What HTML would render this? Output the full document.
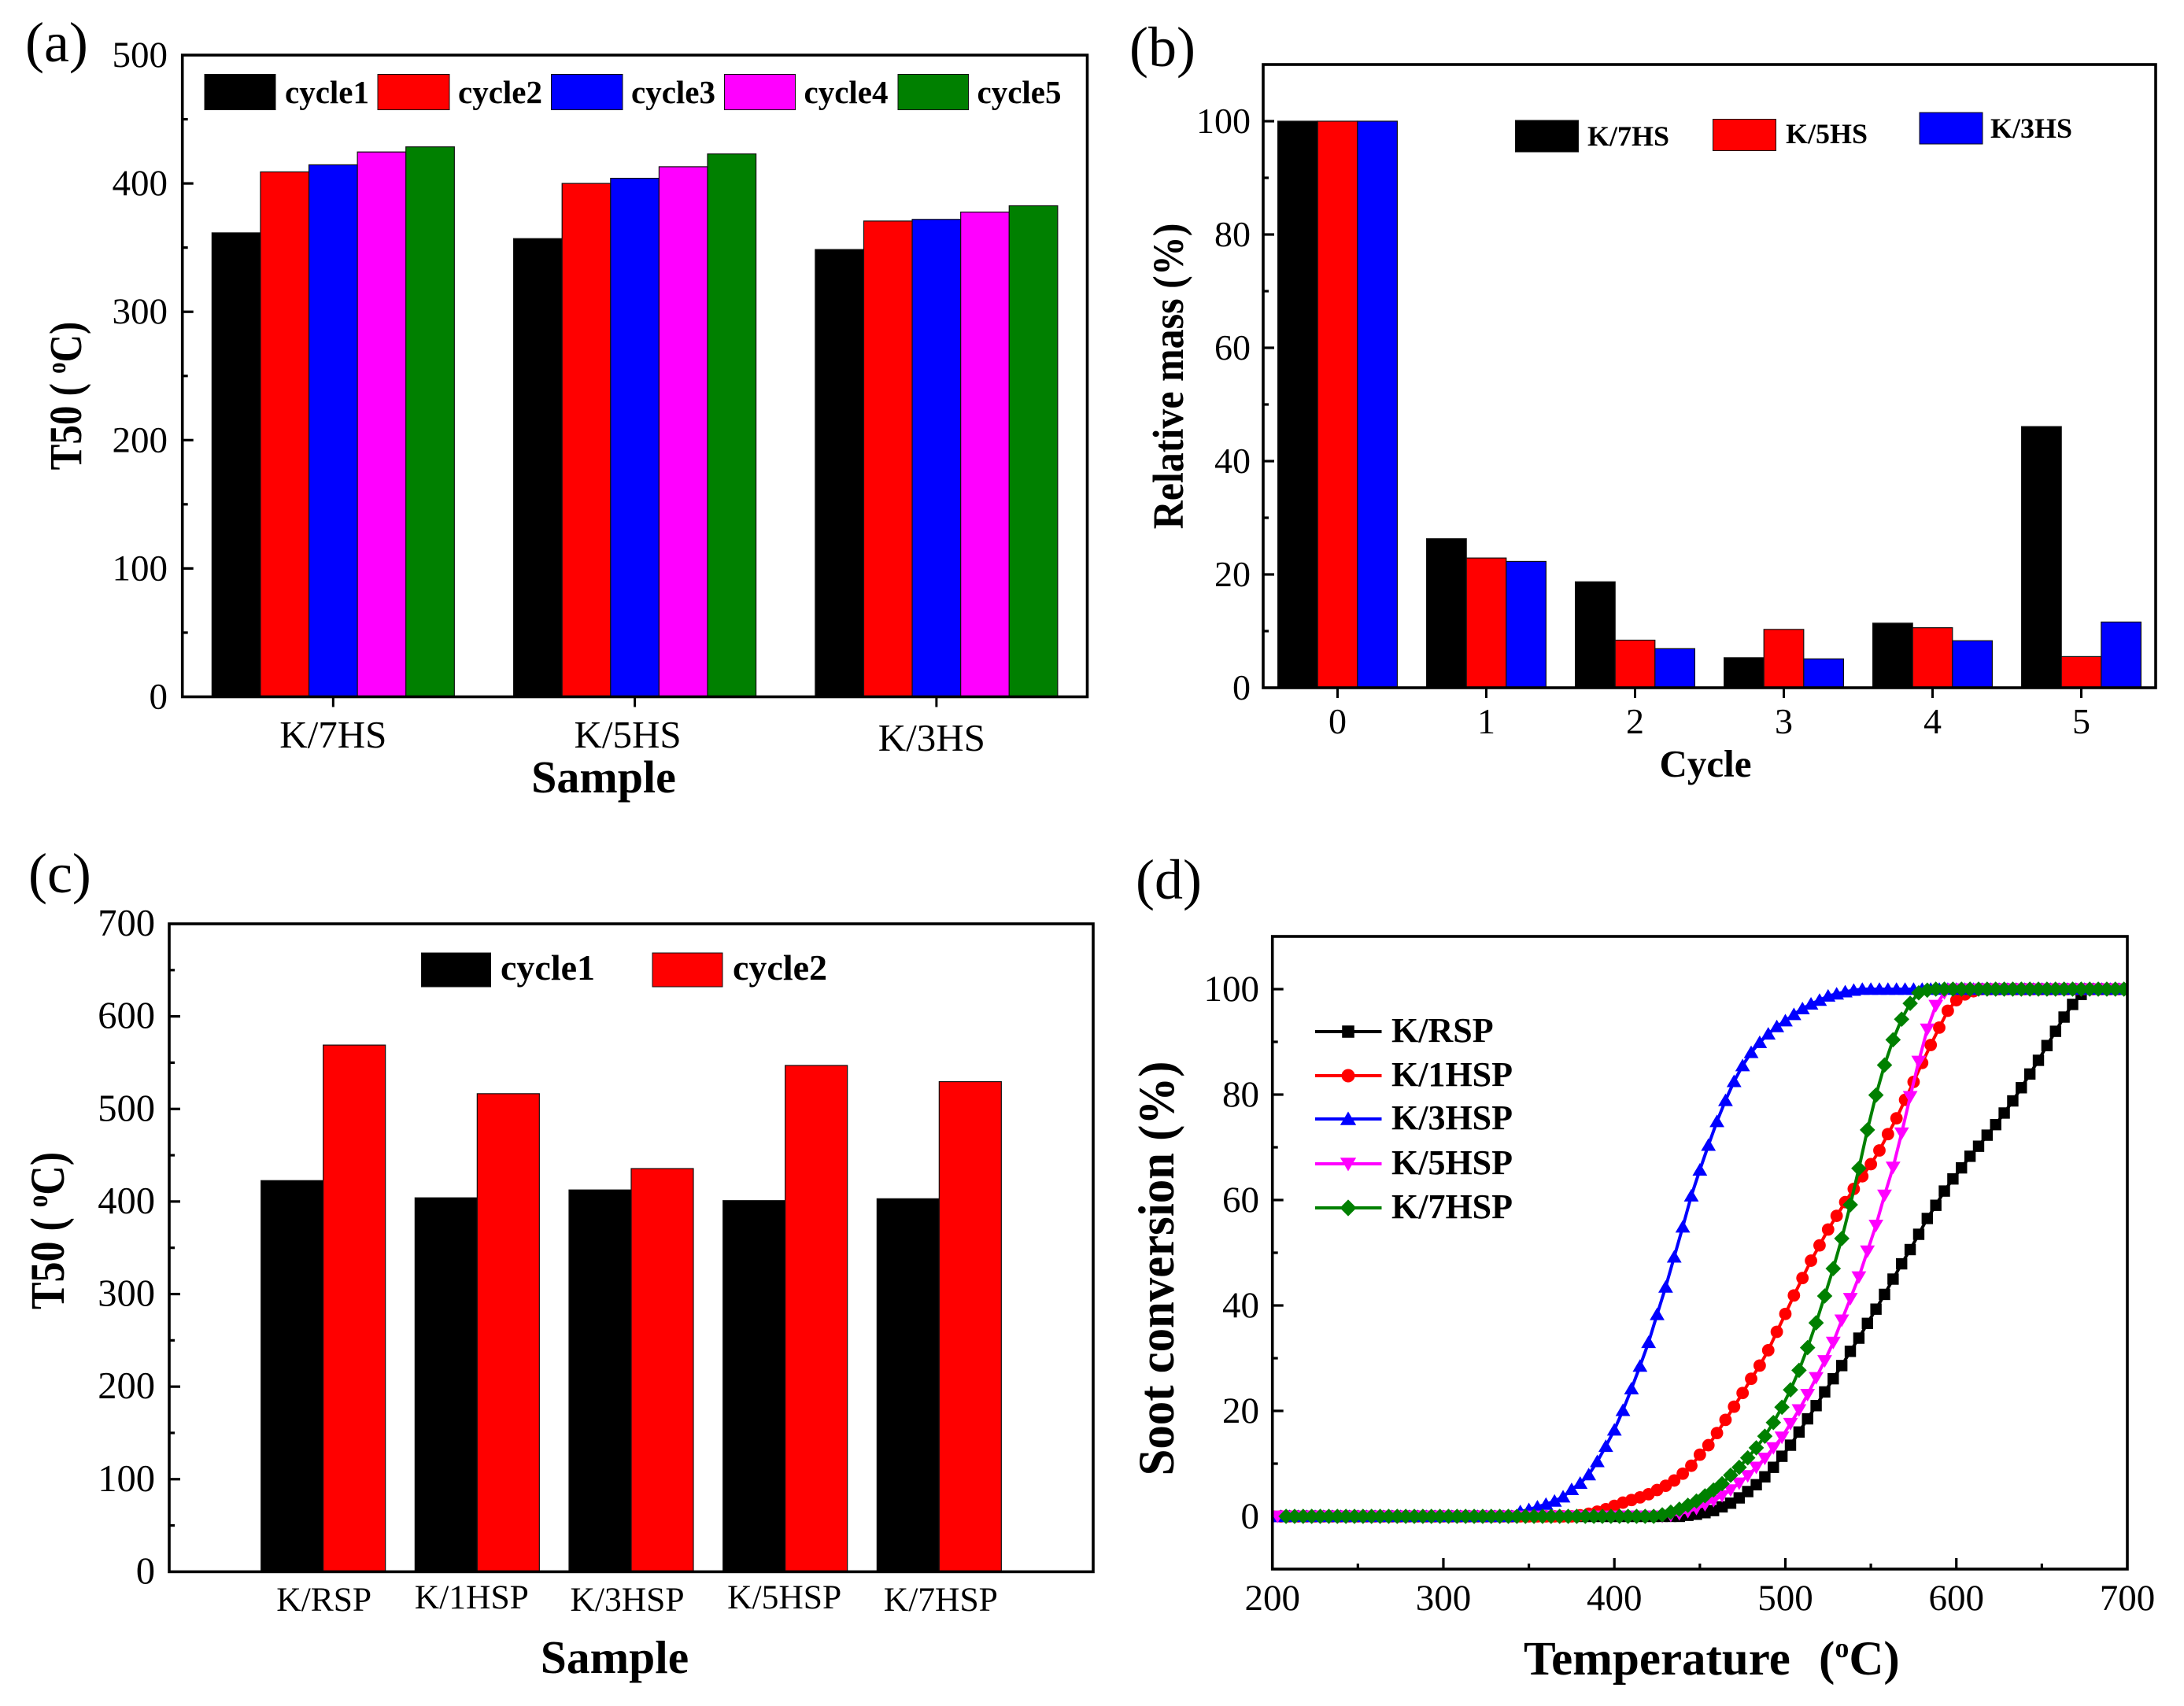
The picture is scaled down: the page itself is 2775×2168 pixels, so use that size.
<!DOCTYPE html>
<html lang="en">
<head>
<meta charset="utf-8">
<title>T50 and soot conversion figure</title>
<style>
html,body{margin:0;padding:0;background:#fff;}
svg{display:block;}
text{font-family:"Liberation Serif","Times New Roman",serif;fill:#000;}
.b{font-weight:bold;}
</style>
</head>
<body>
<svg id="figure" xmlns="http://www.w3.org/2000/svg" width="2775" height="2168" viewBox="0 0 2775 2168">
<defs><clipPath id="plotClipD"><rect x="1616.7" y="1190" width="1086.3" height="804"/></clipPath></defs>
<rect width="2775" height="2168" fill="#fff"/>

<g id="panelA"></g>
<g id="panelB"></g>
<g id="panelC"></g>
<g id="panelD"></g>

<!-- panel letters -->
<text x="32" y="78" font-size="72">(a)</text>
<text x="1435" y="84" font-size="72">(b)</text>
<text x="36" y="1134" font-size="72">(c)</text>
<text x="1443" y="1142" font-size="72">(d)</text>

<!-- panel a titles and legend -->
<text class="b" x="767" y="1007" font-size="58" text-anchor="middle">Sample</text>
<text class="b" transform="translate(103 503) rotate(-90) scale(1 1.18)" font-size="49" text-anchor="middle">T50 ( <tspan font-size="29" dy="-17">o</tspan><tspan dy="17">C)</tspan></text>
<g>
  <rect x="260" y="94.5" width="90" height="45" fill="#000" stroke="#111" stroke-width="1"/>
  <text class="b" x="362" y="131" font-size="41">cycle1</text>
  <rect x="480" y="94.5" width="91" height="45" fill="#f00" stroke="#111" stroke-width="1"/>
  <text class="b" x="582" y="131" font-size="41">cycle2</text>
  <rect x="700.5" y="94.5" width="90.5" height="45" fill="#00f" stroke="#111" stroke-width="1"/>
  <text class="b" x="802" y="131" font-size="41">cycle3</text>
  <rect x="920.5" y="94.5" width="90" height="45" fill="#f0f" stroke="#111" stroke-width="1"/>
  <text class="b" x="1021.5" y="131" font-size="41">cycle4</text>
  <rect x="1141" y="94.5" width="89.5" height="45" fill="#008000" stroke="#111" stroke-width="1"/>
  <text class="b" x="1241.5" y="131" font-size="41">cycle5</text>
</g>

<!-- panel b titles and legend -->
<text class="b" x="2167" y="987" font-size="49" text-anchor="middle">Cycle</text>
<text class="b" transform="translate(1503 478) rotate(-90) scale(1 1.1)" font-size="50" text-anchor="middle">Relative mass (%)</text>
<g>
  <rect x="1925.5" y="153" width="80" height="40" fill="#000" stroke="#111" stroke-width="1"/>
  <text class="b" x="2017" y="185" font-size="36">K/7HS</text>
  <rect x="2176.5" y="151.5" width="80" height="40" fill="#f00" stroke="#111" stroke-width="1"/>
  <text class="b" x="2269" y="182" font-size="36">K/5HS</text>
  <rect x="2439" y="143" width="80" height="40" fill="#00f" stroke="#111" stroke-width="1"/>
  <text class="b" x="2529" y="175" font-size="36">K/3HS</text>
</g>

<!-- panel c titles and legend -->
<text class="b" x="781" y="2126" font-size="59.5" text-anchor="middle">Sample</text>
<text class="b" transform="translate(81 1564) rotate(-90) scale(1 1.18)" font-size="52" text-anchor="middle">T50 ( <tspan font-size="31" dy="-18">o</tspan><tspan dy="18">C)</tspan></text>
<g>
  <rect x="535.5" y="1211" width="88" height="43" fill="#000" stroke="#111" stroke-width="1"/>
  <text class="b" x="636" y="1245" font-size="46">cycle1</text>
  <rect x="829" y="1211" width="89" height="43" fill="#f00" stroke="#111" stroke-width="1"/>
  <text class="b" x="931" y="1245" font-size="46">cycle2</text>
</g>

<!-- panel d titles -->
<text class="b" y="2128" font-size="61"><tspan x="1936">Temperature</tspan><tspan x="2311">(</tspan><tspan font-size="36" dy="-22">o</tspan><tspan dy="22">C)</tspan></text>
<text class="b" transform="translate(1491 1612) rotate(-90) scale(1 1.06)" font-size="60.8" text-anchor="middle">Soot conversion (%)</text>

<script>
// ---------- panel a data ----------
const aCategories = ["K/7HS", "K/5HS", "K/3HS"];
const aCycle1 = [361.5, 357, 348.5];
const aCycle2 = [409, 400, 370.7];
const aCycle3 = [414.5, 404, 372];
const aCycle4 = [424.5, 413, 377.7];
const aCycle5 = [428.5, 423, 382.6];
const aYTicks = [0, 100, 200, 300, 400, 500];

// ---------- panel b data ----------
const bCategories = ["0", "1", "2", "3", "4", "5"];
const bK7HS = [100, 26.3, 18.7, 5.3, 11.4, 46.1];
const bK5HS = [100, 22.9, 8.4, 10.3, 10.6, 5.5];
const bK3HS = [100, 22.3, 6.9, 5.1, 8.3, 11.6];
const bYTicks = [0, 20, 40, 60, 80, 100];

// ---------- panel c data ----------
const cCategories = ["K/RSP", "K/1HSP", "K/3HSP", "K/5HSP", "K/7HSP"];
const cCycle1 = [422.6, 404, 412.5, 401, 403];
const cCycle2 = [569, 516.5, 435.6, 547, 529.5];
const cYTicks = [0, 100, 200, 300, 400, 500, 600, 700];

// ---------- panel d data ----------
const dXTicks = [200, 300, 400, 500, 600, 700];
const dYTicks = [0, 20, 40, 60, 80, 100];
const dLegendNames = ["K/RSP", "K/1HSP", "K/3HSP", "K/5HSP", "K/7HSP"];
// sampling temperature of each reading (first value of each series)
const dStartRSP = 203;
const dStart1HSP = 200;
const dStart3HSP = 200;
const dStart5HSP = 203;
const dStart7HSP = 208;
const dStepC = 5;
const dRSP = [0,0,0,0,0,0,0,0,0,0,0,0,0,0,0,0,0,0,0,0,0,0,0,0,0,0,0,0,0,0,0,0,0,0,0,0,0,0,0,0,0,0,0,0,0,0,0,0,
  .2,.4,.7,1.1,1.8,2.5,3.5,4.7,6,7.5,9.3,11.4,13.5,16,18.5,21,23.6,26.1,28.6,31.3,33.8,36.6,39.3,42.1,45,47.9,50.6,53.5,56.5,59,61.7,64,66.1,68.3,70.2,72.3,74.3,76.5,78.8,81.3,83.9,86.5,89.3,92,94.7,97.1,99,
  100,100,100,100,100];
const d1HSP = [0,0,0,0,0,0,0,0,0,0,0,0,0,0,0,0,0,0,0,0,0,0,0,0,0,0,0,0,0,0,0,0,0,0,0,0,
  .2,.5,.9,1.35,2,2.6,3.1,3.6,4.2,5,5.8,6.8,8.1,9.6,11.7,13.5,15.8,18.3,20.8,23.4,26.1,28.6,31.5,35,38.4,41.9,45.2,48.5,51.4,54.4,57,59.6,62.1,64.5,66.8,69.4,72.5,75.5,79,82.4,86,89.4,92.7,95.9,97.9,99,99.6,
  100,100,100,100,100,100,100,100,100,100,100,100,100,100,100,100,100,100];
const d3HSP = [0,0,0,0,0,0,0,0,0,0,0,0,0,0,0,0,0,0,0,0,0,0,0,0,0,0,0,0,0,
  .9,1.3,1.8,2.3,2.9,3.7,5.1,6.3,7.9,10.4,13.3,16.4,20.1,24.2,28.5,33,38.3,43.5,49.2,54.9,60.8,65.7,70.4,74.9,78.9,82.5,85.5,88,89.9,91.5,92.9,94,95.2,96.3,97.2,97.9,98.7,99.1,99.5,99.8,
  100,100,100,100,100,100,100,100,100,100,100,100,100,100,100,100,100,100,100,100,100,100,100,100,100,100,100,100,100,100,100,100];
const d5HSP = [0,0,0,0,0,0,0,0,0,0,0,0,0,0,0,0,0,0,0,0,0,0,0,0,0,0,0,0,0,0,0,0,0,0,0,0,0,0,0,0,0,0,0,0,0,0,
  .2,.5,.9,1.5,2.2,3,3.9,5,6.3,7.7,9.3,11,13,15,17.6,20.2,23.1,26.3,29.5,33,37.2,41.3,45.4,50.3,55.2,60.9,66.2,72.7,79.6,86.3,92.4,96.9,99.3,
  100,100,100,100,100,100,100,100,100,100,100,100,100,100,100,100,100,100,100,100,100];
const d7HSP = [0,0,0,0,0,0,0,0,0,0,0,0,0,0,0,0,0,0,0,0,0,0,0,0,0,0,0,0,0,0,0,0,0,0,0,0,0,0,0,0,0,0,0,0,
  .3,.8,1.35,2.1,2.9,3.9,5,6.2,7.8,9.3,11.1,13,15.2,17.8,20.7,24,27.7,32,36.7,41.8,47,52.7,59.1,66,73.3,79.9,85.6,90.4,94.3,97.3,99.3,99.8,
  100,100,100,100,100,100,100,100,100,100,100,100,100,100,100,100,100,100,100,100,100,100,100];

// ---------- helpers ----------
const NS = "http://www.w3.org/2000/svg";
function mk(parent, tag, attrs, txt) {
  const e = document.createElementNS(NS, tag);
  for (const k in attrs) e.setAttribute(k, attrs[k]);
  if (txt !== undefined) e.textContent = txt;
  parent.appendChild(e);
  return e;
}
function frame(parent, L, T, R, B) {
  const e = mk(parent, "rect", {x: L, y: T, width: R - L, height: B - T, fill: "none", stroke: "#000", "stroke-width": 3.6});
  
  
}
function yAxis(parent, L, yFn, ticks, minorStep, maxV, minV, size, labelRight) {
  for (let v = minV; v <= maxV + 1e-6; v += minorStep) {
    const isMajor = ticks.indexOf(v) >= 0;
    if (v === minV || v === maxV) continue;
    const t = mk(parent, "line", {x1: L, x2: L + (isMajor ? 14 : 7), y1: yFn(v), y2: yFn(v), stroke: "#000", "stroke-width": 3.2});
    
    
  }
  ticks.forEach(function (v) {
    const t = mk(parent, "text", {x: labelRight, y: yFn(v) + 15, "font-size": size, "text-anchor": "end"}, String(v));
    
    
  });
}
function xTick(parent, x, B) {
  const t = mk(parent, "line", {x1: x, x2: x, y1: B, y2: B + 13, stroke: "#000", "stroke-width": 3});
  
  
}
function catLabel(parent, txt, x, y, size) {
  const t = mk(parent, "text", {x: x, y: y, "font-size": size, "text-anchor": "middle"}, txt);
  
  
}
function bar(parent, x, w, yTop, yBase, color) {
  const r = mk(parent, "rect", {x: x, y: yTop, width: w, height: yBase - yTop, fill: color, stroke: "#111", "stroke-width": 1.2});
  
  
}

// ---------- panel a ----------
(function () {
  const g = document.getElementById("panelA");
  const L = 231.7, R = 1381.5, T = 70, B = 885.5;
  const y = function (v) { return B - v * (B - T) / 500; };
  const x = function (i) { return L + (i + 0.5) * (R - L) / 3; };
  const series = [aCycle1, aCycle2, aCycle3, aCycle4, aCycle5];
  const colors = ["#000", "#f00", "#00f", "#f0f", "#008000"];
  const w = 61.6;
  series.forEach(function (vals, s) {
    vals.forEach(function (v, i) {
      bar(g, x(i) - 2.5 * w + s * w, w, y(v), B, colors[s]);
    });
  });
  frame(g, L, T, R, B);
  yAxis(g, L, y, aYTicks, 50, 500, 0, 47, 213);
  const labelShift = [0, -9, -6];
  const labelY = [950, 950, 954];
  aCategories.forEach(function (c, i) {
    xTick(g, x(i), B);
    catLabel(g, c, x(i) + labelShift[i], labelY[i], 49);
  });
})();

// ---------- panel b ----------
(function () {
  const g = document.getElementById("panelB");
  const L = 1605, R = 2739, T = 82, B = 874;
  const y = function (v) { return B - v * (B - T) / 110; };
  const x = function (i) { return L + (i + 0.5) * (R - L) / 6; };
  const series = [bK7HS, bK5HS, bK3HS];
  const colors = ["#000", "#f00", "#00f"];
  const w = 50.6;
  series.forEach(function (vals, s) {
    vals.forEach(function (v, i) {
      bar(g, x(i) - 1.5 * w + s * w, w, y(v), B, colors[s]);
    });
  });
  frame(g, L, T, R, B);
  yAxis(g, L, y, bYTicks, 10, 110, 0, 46, 1589);
  bCategories.forEach(function (c, i) {
    xTick(g, x(i), B);
    catLabel(g, c, x(i), 932, 46);
  });
})();

// ---------- panel c ----------
(function () {
  const g = document.getElementById("panelC");
  const L = 215, R = 1389, T = 1174, B = 1997.4;
  const y = function (v) { return B - v * (B - T) / 700; };
  const x = function (i) { return L + (i + 1) * (R - L) / 6; };
  const w = 79;
  cCycle1.forEach(function (v, i) { bar(g, x(i) - w, w, y(v), B, "#000"); });
  cCycle2.forEach(function (v, i) { bar(g, x(i), w, y(v), B, "#f00"); });
  frame(g, L, T, R, B);
  yAxis(g, L, y, cYTicks, 50, 700, 0, 48.5, 197);
  const labelShift = [1, -7, -5, -1, 2];
  const labelY = [2047, 2044, 2047, 2044, 2047];
  cCategories.forEach(function (c, i) {
    catLabel(g, c, x(i) + labelShift[i], labelY[i], 43.5);
  });
})();

// ---------- panel d ----------
(function () {
  const g = document.getElementById("panelD");
  const L = 1616.7, R = 2703, T = 1190, B = 1994;
  const y = function (v) { return B - (v + 10) * (B - T) / 120; };
  const x = function (t) { return L + (t - 200) * (R - L) / 500; };
  yAxis(g, L, y, dYTicks, 10, 110, -10, 47, 1600);
  for (let t = 250; t < 700; t += 50) {
    const major = dXTicks.indexOf(t) >= 0;
    const k = mk(g, "line", {x1: x(t), x2: x(t), y1: B, y2: B - (major ? 14 : 7), stroke: "#000", "stroke-width": 3.2});
    
    
  }
  dXTicks.forEach(function (t) {
    catLabel(g, String(t), x(t), 2046, 47);
  });

  function marker(parent, kind, cx, cy, color, s) {
    let e;
    if (kind === "square") e = mk(parent, "rect", {x: cx - 7.2 * s, y: cy - 7.2 * s, width: 14.4 * s, height: 14.4 * s, fill: color});
    else if (kind === "circle") e = mk(parent, "circle", {cx: cx, cy: cy, r: 7.9 * s, fill: color});
    else if (kind === "up") e = mk(parent, "polygon", {points: (cx - 9.4 * s) + "," + (cy + 7.2 * s) + " " + (cx + 9.4 * s) + "," + (cy + 7.2 * s) + " " + cx + "," + (cy - 8.8 * s), fill: color});
    else if (kind === "down") e = mk(parent, "polygon", {points: (cx - 9.4 * s) + "," + (cy - 7.2 * s) + " " + (cx + 9.4 * s) + "," + (cy - 7.2 * s) + " " + cx + "," + (cy + 8.8 * s), fill: color});
    else e = mk(parent, "polygon", {points: (cx - 9.8 * s) + "," + cy + " " + cx + "," + (cy - 9.8 * s) + " " + (cx + 9.8 * s) + "," + cy + " " + cx + "," + (cy + 9.8 * s), fill: color});
    
    
  }
  function drawSeries(name, vals, start, color, kind) {
    const sg = mk(g, "g", {"clip-path": "url(#plotClipD)"});
    
    
    const pts = vals.map(function (v, i) { return x(start + i * dStepC) + "," + y(v); }).join(" ");
    const line = mk(sg, "polyline", {points: pts, fill: "none", stroke: color, "stroke-width": 4});
    
    
    vals.forEach(function (v, i) { marker(sg, kind, x(start + i * dStepC), y(v), color, 1); });
  }
  drawSeries('series-k-rsp', dRSP, dStartRSP, "#000", "square");
  drawSeries('series-k-1hsp', d1HSP, dStart1HSP, "#f00", "circle");
  drawSeries('series-k-3hsp', d3HSP, dStart3HSP, "#00f", "up");
  drawSeries('series-k-5hsp', d5HSP, dStart5HSP, "#f0f", "down");
  drawSeries('series-k-7hsp', d7HSP, dStart7HSP, "#008000", "diamond");
  frame(g, L, T, R, B);

  const legendColors = ["#000", "#f00", "#00f", "#f0f", "#008000"];
  const legendKinds = ["square", "circle", "up", "down", "diamond"];
  const legendY = [1311, 1367, 1422, 1479, 1535];
  const lg = mk(g, "g", {});
  
  
  dLegendNames.forEach(function (n, i) {
    const l = mk(lg, "line", {x1: 1671, x2: 1755.5, y1: legendY[i], y2: legendY[i], stroke: legendColors[i], "stroke-width": 4});
    
    
    marker(lg, legendKinds[i], 1713, legendY[i], legendColors[i], 1.08);
    const t = mk(lg, "text", {x: 1768, y: legendY[i] + 13, "font-size": 44, "font-weight": "bold"}, n);
    
    
  });
})();
</script>
</svg>
</body>
</html>
